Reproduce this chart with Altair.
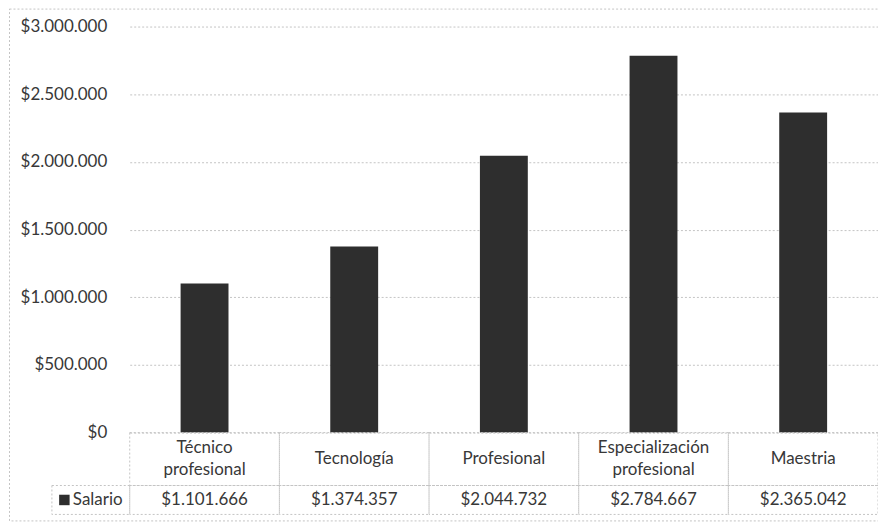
import altair as alt
import pandas as pd

categories = ["Técnico\nprofesional", "Tecnología", "Profesional", "Especialización\nprofesional", "Maestria"]
salaries = [1101666, 1374357, 2044732, 2784667, 2365042]
series_name = "Salario"
y_ticks = [0, 500000, 1000000, 1500000, 2000000, 2500000, 3000000]

df = pd.DataFrame({"cat": categories, "val": salaries})
legend_df = pd.DataFrame({"label": [series_name]})

FONT = "Lato"
FS = 17
TXT = "#383838"
BAR = "#2e2e2e"
GRID = "#c4c4c4"

bar_x = alt.X("cat:N", sort=categories, axis=None,
              scale=alt.Scale(domain=categories, paddingInner=0.68, paddingOuter=0.34))
tab_x = alt.X("cat:N", sort=categories, axis=None,
              scale=alt.Scale(domain=categories, paddingInner=0, paddingOuter=0))

base = alt.Chart(df)

bars = base.mark_bar(color=BAR).encode(
    x=bar_x,
    y=alt.Y("val:Q", scale=alt.Scale(domain=[0, 3000000], nice=False),
            axis=alt.Axis(values=y_ticks, format="$,d", title=None, ticks=False,
                          domain=False, labelFont=FONT, labelFontSize=FS,
                          labelColor=TXT, labelPadding=23, gridDash=[2, 2],
                          gridColor=GRID, gridWidth=1)),
)

cell_style = dict(fill="white", fillOpacity=0, stroke=GRID, strokeDash=[2, 2], strokeWidth=1)

head_cells = base.mark_rect(**cell_style).encode(
    x=tab_x, y=alt.value(407), y2=alt.value(460))
val_cells = base.mark_rect(**cell_style).encode(
    x=tab_x, y=alt.value(460), y2=alt.value(489))
legend_cell = alt.Chart(legend_df).mark_rect(**cell_style).encode(
    x=alt.value(-78), x2=alt.value(0), y=alt.value(460), y2=alt.value(489))

text_style = dict(font=FONT, fontSize=FS, color=TXT, lineBreak="\n",
                  lineHeight=22, baseline="middle", align="center")
head_text_1 = base.mark_text(**text_style).transform_filter(
    "indexof(datum.cat, '\\n') < 0"
).encode(x=tab_x, y=alt.value(433.5), text="cat:N")
head_text_2 = base.mark_text(**text_style).transform_filter(
    "indexof(datum.cat, '\\n') >= 0"
).encode(x=tab_x, y=alt.value(422.5), text="cat:N")
val_text = base.mark_text(font=FONT, fontSize=FS, color=TXT, baseline="middle",
                          align="center").encode(
    x=tab_x, y=alt.value(474.5), text=alt.Text("val:Q", format="$,d"))

legend_sym = alt.Chart(legend_df).mark_square(color=BAR, size=110, opacity=1).encode(
    x=alt.value(-65.5), y=alt.value(474.5))
legend_text = alt.Chart(legend_df).mark_text(font=FONT, fontSize=FS, color=TXT,
                                             align="left", baseline="middle").encode(
    x=alt.value(-57), y=alt.value(474.5), text="label:N")

frame = alt.Chart(legend_df).mark_rect(fill="white", fillOpacity=0, stroke=GRID,
                                       strokeDash=[2, 2], strokeWidth=1).encode(
    x=alt.value(-120.5), x2=alt.value(751), y=alt.value(-17.5), y2=alt.value(495.5))

chart = alt.layer(
    frame, bars, head_cells, val_cells, legend_cell, head_text_1, head_text_2,
    val_text, legend_sym, legend_text
).resolve_scale(x="independent").properties(
    width=750, height=407,
    autosize=alt.AutoSizeParams(type="none"),
    padding={"left": 122, "top": 18, "right": 0, "bottom": 89},
).configure(
    locale={"number": {"decimal": ",", "thousands": ".", "grouping": [3],
                       "currency": ["$", ""]}},
).configure_view(stroke=None)

chart.save("out.html", embed_options={"renderer": "svg", "actions": False})
